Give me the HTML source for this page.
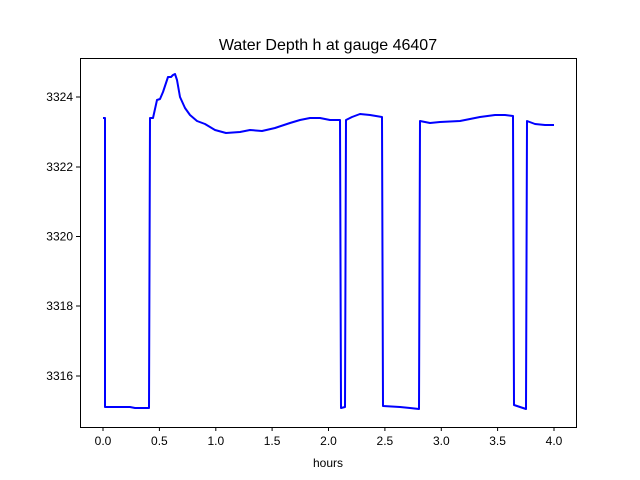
<!DOCTYPE html>
<html><head><meta charset="utf-8"><style>body{margin:0;background:#fff}svg{display:block}</style></head><body>
<svg width="640" height="480" xmlns="http://www.w3.org/2000/svg" font-family="Liberation Sans, DejaVu Sans, sans-serif">
<rect width="640" height="480" fill="#fff"/>
<text x="328" y="50" font-size="16" text-anchor="middle">Water Depth h at gauge 46407</text>
<polyline fill="none" stroke="#0000ff" stroke-width="2" stroke-linejoin="round" points="103,118 105,118 105,407 130,407 135,408 149,408 150,118 153,118 157,100 160,99 163,92 168,77 171,77 173,75 175,74 177,80 180,97 185,108 190,115 197,121 205,124 215,130 226,133 240,132 250,130 262,131 275,128 290,123 300,120 310,118 320,118 330,120 340,120 341,408 345,407 346,120 352,117 360,114 370,115 382,117 383,406 400,407 410,408 419,409 420,121 430,123 440,122 460,121 480,117 495,115 505,115 513,116 514,405 520,407 526,409 527,121 535,124 545,125 554,125"/>
<rect x="80.5" y="58.5" width="496" height="369" fill="none" stroke="#000" stroke-width="1"/>
<g stroke="#000" stroke-width="1">
<line x1="103" y1="427" x2="103" y2="431"/><line x1="159.4" y1="427" x2="159.4" y2="431"/><line x1="215.8" y1="427" x2="215.8" y2="431"/><line x1="272.1" y1="427" x2="272.1" y2="431"/><line x1="328.5" y1="427" x2="328.5" y2="431"/><line x1="384.9" y1="427" x2="384.9" y2="431"/><line x1="441.3" y1="427" x2="441.3" y2="431"/><line x1="497.6" y1="427" x2="497.6" y2="431"/><line x1="554" y1="427" x2="554" y2="431"/>
<line x1="76" y1="97" x2="80" y2="97"/><line x1="76" y1="167" x2="80" y2="167"/><line x1="76" y1="236.5" x2="80" y2="236.5"/><line x1="76" y1="306" x2="80" y2="306"/><line x1="76" y1="376" x2="80" y2="376"/>
</g>
<g font-size="12" text-anchor="middle">
<text x="103" y="445">0.0</text><text x="159.4" y="445">0.5</text><text x="215.8" y="445">1.0</text><text x="272.1" y="445">1.5</text><text x="328.5" y="445">2.0</text><text x="384.9" y="445">2.5</text><text x="441.3" y="445">3.0</text><text x="497.6" y="445">3.5</text><text x="554" y="445">4.0</text>
<text x="328" y="467">hours</text>
</g>
<g font-size="12" text-anchor="end">
<text x="73" y="101">3324</text><text x="73" y="171">3322</text><text x="73" y="240.5">3320</text><text x="73" y="310">3318</text><text x="73" y="380">3316</text>
</g>
</svg>
</body></html>
